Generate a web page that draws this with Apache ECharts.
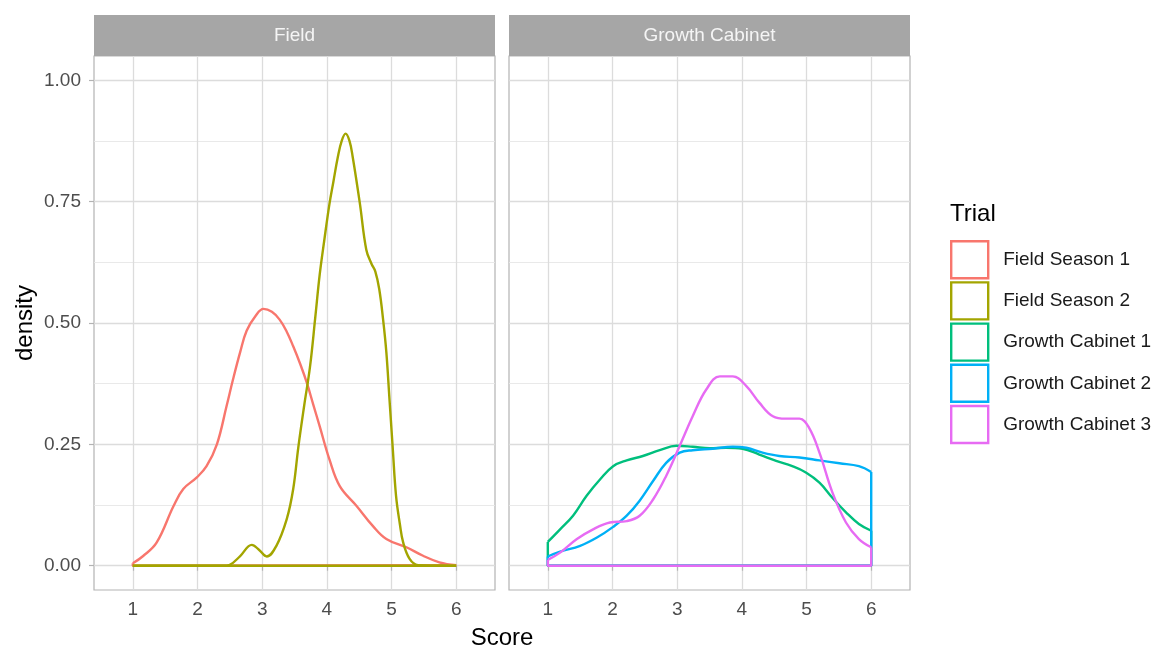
<!DOCTYPE html>
<html>
<head>
<meta charset="utf-8">
<script src="https://cdn.jsdelivr.net/npm/echarts@6/dist/echarts.min.js"></script>
<style>html,body{margin:0;padding:0;background:#fff}#c{width:1163px;height:650px}</style>
</head>
<body>
<div id="c"></div>
<script>
// ---- data ----
const panels = ['Field', 'Growth Cabinet'];
const trials = ['Field Season 1', 'Field Season 2', 'Growth Cabinet 1', 'Growth Cabinet 2', 'Growth Cabinet 3'];
const trialPanel = [0, 0, 1, 1, 1];
const colors = ['#F8766D', '#A3A500', '#00BF7D', '#00B0F6', '#E76BF3'];
const xTicks = [1, 2, 3, 4, 5, 6];
const yTicks = [0, 0.25, 0.5, 0.75, 1];
const yMinorTicks = [0.125, 0.375, 0.625, 0.875];

const fs1X = [1.0, 1.16, 1.37, 1.63, 1.78, 1.99, 2.14, 2.30, 2.45, 2.55, 2.66, 2.76, 2.90, 3.02, 3.15, 3.27, 3.38, 3.48, 3.59, 3.69, 3.79, 3.89, 4.04, 4.20, 4.46, 4.71, 4.92, 5.23, 5.48, 5.74, 6.0];
const fs1Y = [0.005, 0.02, 0.048, 0.123, 0.158, 0.182, 0.205, 0.25, 0.329, 0.384, 0.44, 0.484, 0.515, 0.529, 0.523, 0.507, 0.482, 0.452, 0.415, 0.377, 0.332, 0.287, 0.219, 0.164, 0.123, 0.082, 0.055, 0.038, 0.021, 0.007, 0.001];

const fs2X = [1.0, 2.0, 2.4, 2.50, 2.66, 2.84, 2.95, 3.07, 3.22, 3.38, 3.48, 3.56, 3.65, 3.74, 3.82, 3.89, 3.96, 4.04, 4.10, 4.17, 4.23, 4.29, 4.35, 4.40, 4.51, 4.61, 4.69, 4.75, 4.81, 4.87, 4.92, 4.97, 5.02, 5.07, 5.13, 5.18, 5.28, 5.41, 5.6, 6.0];
const fs2Y = [0, 0, 0, 0.002, 0.02, 0.043, 0.033, 0.019, 0.041, 0.096, 0.158, 0.245, 0.33, 0.41, 0.51, 0.60, 0.67, 0.745, 0.79, 0.842, 0.875, 0.890, 0.875, 0.842, 0.747, 0.651, 0.622, 0.606, 0.57, 0.507, 0.44, 0.34, 0.24, 0.144, 0.085, 0.048, 0.014, 0.001, 0, 0];

const gc1X = [1.0, 1.19, 1.39, 1.60, 1.81, 2.01, 2.22, 2.47, 2.73, 2.99, 3.24, 3.50, 3.76, 4.01, 4.27, 4.53, 4.78, 4.99, 5.20, 5.40, 5.61, 5.81, 6.0];
const gc1Y = [0.049, 0.075, 0.103, 0.144, 0.178, 0.205, 0.217, 0.226, 0.238, 0.247, 0.245, 0.242, 0.243, 0.241, 0.229, 0.216, 0.205, 0.192, 0.171, 0.140, 0.110, 0.086, 0.072];

const gc2X = [1.0, 1.19, 1.50, 1.76, 2.01, 2.22, 2.42, 2.63, 2.83, 3.04, 3.24, 3.55, 3.86, 4.07, 4.32, 4.58, 4.89, 5.20, 5.51, 5.81, 6.0];
const gc2Y = [0.019, 0.029, 0.041, 0.058, 0.080, 0.103, 0.134, 0.175, 0.212, 0.233, 0.238, 0.241, 0.245, 0.243, 0.233, 0.226, 0.223, 0.217, 0.211, 0.205, 0.193];

const gc3X = [1.0, 1.19, 1.45, 1.70, 1.96, 2.22, 2.42, 2.63, 2.83, 3.04, 3.24, 3.45, 3.66, 3.86, 4.07, 4.27, 4.48, 4.68, 4.89, 5.04, 5.20, 5.40, 5.61, 5.81, 6.0];
const gc3Y = [0.012, 0.027, 0.055, 0.075, 0.089, 0.092, 0.103, 0.137, 0.185, 0.247, 0.308, 0.363, 0.390, 0.390, 0.370, 0.336, 0.308, 0.303, 0.303, 0.284, 0.233, 0.151, 0.089, 0.055, 0.038];

const seriesX = [fs1X, fs2X, gc1X, gc2X, gc3X];
const seriesY = [fs1Y, fs2Y, gc1Y, gc2Y, gc3Y];

// ---- layout ----
const FONT = 'Liberation Sans, Arial, Helvetica, sans-serif';
const P = [{left: 94}, {left: 509}];
const TOP = 56, W = 401, H = 534;
const gridColor = '#DCDCDC', borderColor = '#B3B3B3';

const grids = P.map(p => ({left: p.left, top: TOP, width: W, height: H, show: true,
  borderColor: borderColor, borderWidth: 1.2, backgroundColor: '#fff', containLabel: false}));

const xAxes = P.map((p, i) => ({
  type: 'value', gridIndex: i, min: 0.4, max: 6.6,
  axisLine: {show: false},
  axisTick: {show: true, length: 5, lineStyle: {color: borderColor, width: 1.2}, customValues: xTicks},
  axisLabel: {customValues: xTicks, fontSize: 19, color: '#4D4D4D', margin: 10, fontFamily: FONT},
  splitLine: {show: true, lineStyle: {color: gridColor, width: 1.3}}
}));

const yAxes = [];
P.forEach((p, i) => {
  yAxes.push({
    type: 'value', gridIndex: i, min: -0.05, max: 1.05,
    axisLine: {show: false},
    axisTick: {show: i === 0, length: 5, lineStyle: {color: borderColor, width: 1.2}, customValues: yTicks},
    axisLabel: {show: i === 0, customValues: yTicks, fontSize: 19, color: '#4D4D4D', margin: 13,
      fontFamily: FONT, formatter: v => v.toFixed(2)},
    splitLine: {show: true, lineStyle: {color: gridColor, width: 1.3}}
  });
  yAxes.push({
    type: 'value', gridIndex: i, min: -0.05, max: 1.05,
    axisLine: {show: false},
    axisTick: {show: false, customValues: yMinorTicks},
    axisLabel: {show: false, customValues: yMinorTicks},
    splitLine: {show: true, lineStyle: {color: '#E6E6E6', width: 0.9}}
  });
});

const series = [];
trials.forEach((t, i) => {
  const xs = seriesX[i], ys = seriesY[i], p = trialPanel[i];
  const n = xs.length;
  series.push({
    type: 'line', name: t, xAxisIndex: p, yAxisIndex: p * 2,
    data: xs.map((x, k) => [x, ys[k]]),
    smooth: 0.4, showSymbol: false, silent: true,
    lineStyle: {color: colors[i], width: 2.4}, itemStyle: {color: colors[i]}, z: 3 + i
  });
  series.push({
    type: 'line', name: t, xAxisIndex: p, yAxisIndex: p * 2,
    data: [[xs[n - 1], ys[n - 1]], [xs[n - 1], 0], [xs[0], 0], [xs[0], ys[0]]],
    smooth: false, showSymbol: false, silent: true,
    lineStyle: {color: colors[i], width: 2.4}, itemStyle: {color: colors[i]}, z: 3 + i
  });
});

const graphics = [];
P.forEach((p, i) => {
  graphics.push({type: 'rect', shape: {x: p.left, y: 15, width: W, height: 41}, style: {fill: '#A6A6A6'}, silent: true});
  graphics.push({type: 'text', x: p.left + W / 2, y: 36, style: {text: panels[i], fill: '#F5F5F5', fontSize: 19,
    fontFamily: FONT, align: 'center', verticalAlign: 'middle'}, silent: true});
});
graphics.push({type: 'text', x: 25, y: 323, rotation: Math.PI / 2,
  style: {text: 'density', fill: '#000', fontSize: 24, fontFamily: FONT, align: 'center', verticalAlign: 'middle'}});
graphics.push({type: 'text', x: 502, y: 638,
  style: {text: 'Score', fill: '#000', fontSize: 24, fontFamily: FONT, align: 'center', verticalAlign: 'middle'}});
graphics.push({type: 'text', x: 950, y: 214,
  style: {text: 'Trial', fill: '#000', fontSize: 24, fontFamily: FONT, align: 'left', verticalAlign: 'middle'}});

const chart = echarts.init(document.getElementById('c'), null, {renderer: 'canvas'});
chart.setOption({
  animation: false,
  backgroundColor: '#fff',
  grid: grids,
  xAxis: xAxes,
  yAxis: yAxes,
  legend: {
    orient: 'vertical', left: 950, top: 240, padding: 0, itemWidth: 37, itemHeight: 37, itemGap: 1.8,
    icon: 'rect', selectedMode: false,
    textStyle: {fontSize: 19, color: '#1A1A1A', fontFamily: FONT, padding: [0, 0, 0, 10]},
    data: trials.map((t, i) => ({name: t, icon: 'rect', itemStyle: {color: '#fff', borderColor: colors[i], borderWidth: 2.4}}))
  },
  graphic: graphics,
  series: series
});
</script>
</body>
</html>
